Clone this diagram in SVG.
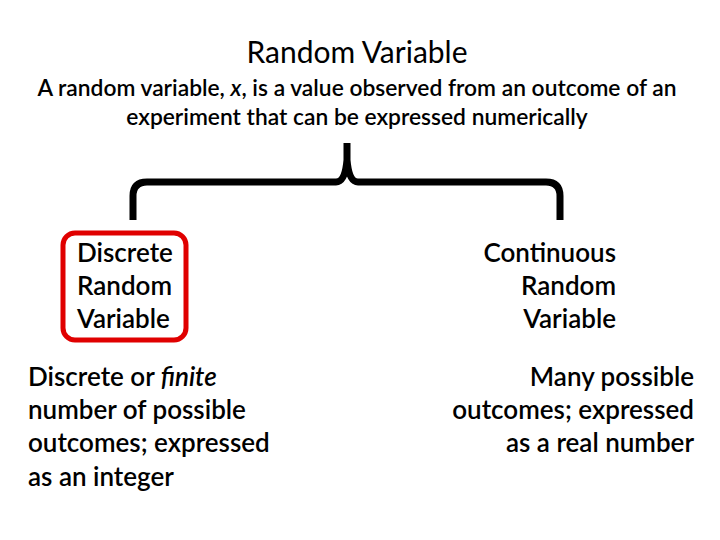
<svg xmlns="http://www.w3.org/2000/svg" width="720" height="540" viewBox="0 0 720 540">
<style>
text{font-family:Lato,"Open Sans","Liberation Sans",sans-serif;fill:#000}
.t{font-size:30px}
.s{font-size:22.8px;font-weight:600}
.b{font-size:26px;font-weight:600}
</style>
<rect width="720" height="540" fill="#fff"/>
<g id="header">
<text class="t" x="357" y="63" text-anchor="middle">Random Variable</text>
<text class="s" x="357" y="96" text-anchor="middle">A random variable, <tspan font-style="italic">x</tspan>, is a value observed from an outcome of an</text>
<text class="s" x="357" y="125" text-anchor="middle">experiment that can be expressed numerically</text>
</g>
<g id="connectors">
<path d="M133 220 L133 196 Q133 182 147 182 L336 182 Q345 182 347 160 L347 143 M347 160 Q349 182 358 182 L546 182 Q560 182 560 196 L560 220" fill="none" stroke="#000" stroke-width="7" stroke-linecap="butt"/>
</g>
<g id="discrete">
<rect x="63" y="233" width="123" height="107" rx="12" fill="none" stroke="#e00000" stroke-width="5"/>
<text class="b" x="77" y="262">Discrete</text>
<text class="b" x="77" y="295">Random</text>
<text class="b" x="77" y="328">Variable</text>
</g>
<g id="continuous">
<text class="b" x="616" y="262" text-anchor="end">Continuous</text>
<text class="b" x="616" y="295" text-anchor="end">Random</text>
<text class="b" x="616" y="328" text-anchor="end">Variable</text>
</g>
<g id="discrete-desc">
<text class="b" x="28" y="386">Discrete or <tspan font-style="italic">finite</tspan></text>
<text class="b" x="28" y="419">number of possible</text>
<text class="b" x="28" y="452">outcomes; expressed</text>
<text class="b" x="28" y="486">as an integer</text>
</g>
<g id="continuous-desc">
<text class="b" x="694" y="386" text-anchor="end">Many possible</text>
<text class="b" x="694" y="419" text-anchor="end">outcomes; expressed</text>
<text class="b" x="694" y="452" text-anchor="end">as a real number</text>
</g>
</svg>
